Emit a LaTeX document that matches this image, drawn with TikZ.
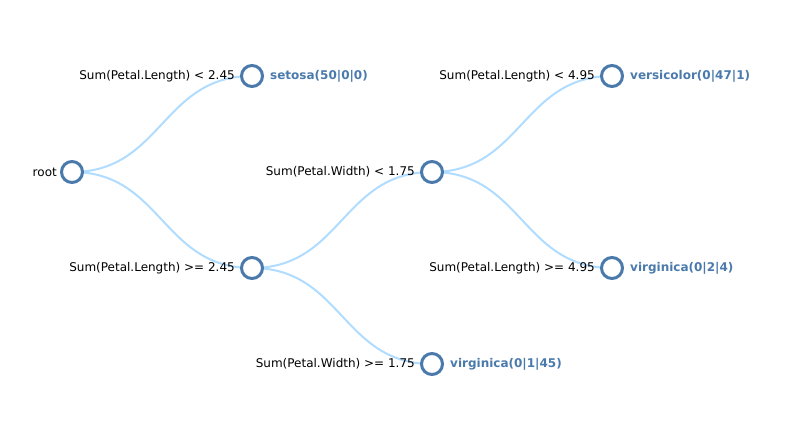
\documentclass[tikz,border=0pt]{standalone}
\usepackage{fontspec}
\setmainfont{DejaVu Sans}
\begin{document}
\begin{tikzpicture}[x=1pt,y=-1pt,
  tnode/.style={circle,draw=nodeblue,line width=3pt,fill=white,minimum size=21pt,inner sep=0pt},
  link/.style={draw=linkblue,line width=2pt},
  cond/.style={anchor=east,inner sep=0pt,font=\fontsize{12}{14}\selectfont,text=black},
  leaf/.style={anchor=west,inner sep=0pt,font=\fontsize{12}{14}\selectfont\bfseries,text=nodeblue}]
\definecolor{nodeblue}{HTML}{4A7AAC}
\definecolor{linkblue}{HTML}{B0DCFF}
\useasboundingbox (0,0) rectangle (801,436);
\coordinate (pr) at (72,172);
\coordinate (pa) at (252,76);
\coordinate (pb) at (252,268);
\coordinate (pc) at (432,172);
\coordinate (pd) at (432,364);
\coordinate (pe) at (612,76);
\coordinate (pf) at (612,268);
% links
\draw[link] (pr) .. controls (162,172) and (162,76) .. (pa);
\draw[link] (pr) .. controls (162,172) and (162,268) .. (pb);
\draw[link] (pb) .. controls (342,268) and (342,172) .. (pc);
\draw[link] (pb) .. controls (342,268) and (342,364) .. (pd);
\draw[link] (pc) .. controls (522,172) and (522,76) .. (pe);
\draw[link] (pc) .. controls (522,172) and (522,268) .. (pf);
% nodes
\node[tnode] (root) at (pr) {};
\node[tnode] (a) at (pa) {};
\node[tnode] (b) at (pb) {};
\node[tnode] (c) at (pc) {};
\node[tnode] (d) at (pd) {};
\node[tnode] (e) at (pe) {};
\node[tnode] (f) at (pf) {};
% labels
\node[cond] (lroot) at ([xshift=-15pt]root.center) {root};
\node[cond] (la) at ([xshift=-17pt]a.center) {Sum(Petal.Length) < 2.45};
\node[cond] (lb) at ([xshift=-17pt]b.center) {Sum(Petal.Length) >= 2.45};
\node[cond] (lc) at ([xshift=-17pt]c.center) {Sum(Petal.Width) < 1.75};
\node[cond] (ld) at ([xshift=-17pt]d.center) {Sum(Petal.Width) >= 1.75};
\node[cond] (le) at ([xshift=-17pt]e.center) {Sum(Petal.Length) < 4.95};
\node[cond] (lf) at ([xshift=-17pt]f.center) {Sum(Petal.Length) >= 4.95};
\node[leaf] (ta) at ([xshift=18pt]a.center) {setosa(50|0|0)};
\node[leaf] (td) at ([xshift=18pt]d.center) {virginica(0|1|45)};
\node[leaf] (te) at ([xshift=18pt]e.center) {versicolor(0|47|1)};
\node[leaf] (tf) at ([xshift=18pt]f.center) {virginica(0|2|4)};
\end{tikzpicture}
\end{document}
